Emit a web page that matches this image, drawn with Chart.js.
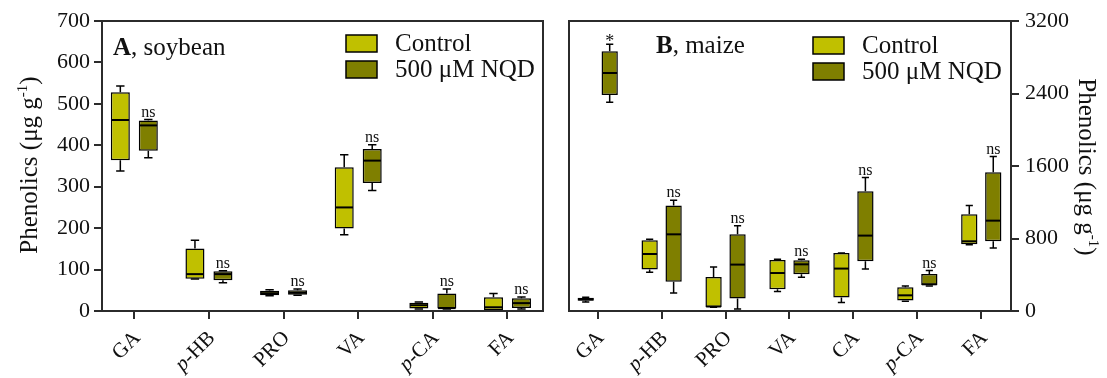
<!DOCTYPE html>
<html>
<head>
<meta charset="utf-8">
<script src="https://cdn.jsdelivr.net/npm/chart.js@4.4.1/dist/chart.umd.min.js"></script>
<style>
  html, body { margin: 0; padding: 0; background: #fff; }
  #wrap { position: relative; width: 1107px; height: 378px; }
  canvas { position: absolute; top: 0; }
  #soy { left: 0; }
  #maize { left: 555px; }
</style>
</head>
<body>
<div id="wrap">
  <canvas id="soy" width="555" height="378"></canvas>
  <canvas id="maize" width="552" height="378"></canvas>
</div>
<script>
// box stats per compound: [min, q1, median, q3, max], ug/g
const soyCats = ['GA', 'p-HB', 'PRO', 'VA', 'p-CA', 'FA'];
const soyControl = [[338, 364, 461, 528, 543], [77, 78, 89, 151, 171], [37, 38, 43, 49, 51],
                    [184, 199, 250, 347, 377], [5, 6, 14, 20, 22], [0, 2, 9, 33, 42]];
const soyNqd = [[370, 387, 448, 460, 462], [68, 74, 89, 96, 97], [38, 39, 44, 50, 53],
                [291, 309, 363, 391, 401], [5, 6, 7, 42, 53], [5, 7, 19, 31, 34]];
const soySig = ['ns', 'ns', 'ns', 'ns', 'ns', 'ns'];
const soyTicks = [0, 100, 200, 300, 400, 500, 600, 700];

const maizeCats = ['GA', 'p-HB', 'PRO', 'VA', 'CA', 'p-CA', 'FA'];
const maizeControl = [[100, 112, 128, 146, 152], [427, 457, 629, 780, 791], [41, 41, 50, 375, 486],
                      [214, 239, 419, 563, 570], [93, 148, 468, 640, 640], [107, 115, 173, 262, 276],
                      [732, 736, 769, 1067, 1163]];
const maizeNqd = [[2303, 2384, 2626, 2866, 2943], [199, 324, 846, 1163, 1221], [22, 137, 512, 846, 942],
                  [372, 405, 515, 559, 570], [464, 548, 832, 1321, 1472], [276, 284, 295, 408, 446],
                  [695, 769, 997, 1530, 1704]];
const maizeSig = ['*', 'ns', 'ns', 'ns', 'ns', 'ns', 'ns'];
const maizeTicks = [0, 800, 1600, 2400, 3200];

const seriesLabels = ['Control', '500 \u03bcM NQD'];
const seriesColors = ['#c0c000', '#7f7f00'];

const FONT = '"Liberation Serif", "Times New Roman", serif';
const INK = '#111';
const FRAME = '#2b2b2b';

function boxDatasets(ctrl, nqd) {
  return [ctrl, nqd].map((stats, k) => ({
    label: seriesLabels[k],
    stats: stats,
    data: stats.map((s, i) => ({ x: i, y: [s[1], s[3]] })),
    backgroundColor: seriesColors[k],
    borderColor: '#000',
    borderWidth: 1.5,
    borderSkipped: false,
    categoryPercentage: 0.75,
    barPercentage: 0.68
  }));
}

// whiskers, medians and significance marks
function boxPlot(sig) {
  return {
    id: 'boxPlot',
    afterDatasetsDraw(chart) {
      const ctx = chart.ctx, ys = chart.scales.y;
      const py = v => ys.getPixelForValue(v);
      ctx.save();
      ctx.strokeStyle = '#000';
      chart.data.datasets.forEach((ds, di) => {
        chart.getDatasetMeta(di).data.forEach((bar, i) => {
          const [mn, q1, md, q3, mx] = ds.stats[i];
          const x = bar.x, hw = bar.width / 2, cap = bar.width * 0.22;
          ctx.lineWidth = 1.5;
          ctx.beginPath();
          ctx.moveTo(x, py(q3)); ctx.lineTo(x, py(mx));
          ctx.moveTo(x - cap, py(mx)); ctx.lineTo(x + cap, py(mx));
          ctx.moveTo(x, py(q1)); ctx.lineTo(x, py(mn));
          ctx.moveTo(x - cap, py(mn)); ctx.lineTo(x + cap, py(mn));
          ctx.stroke();
          ctx.lineWidth = 2;
          ctx.beginPath();
          ctx.moveTo(x - hw + 0.75, py(md)); ctx.lineTo(x + hw - 0.75, py(md));
          ctx.stroke();
        });
      });
      const treated = chart.data.datasets[1];
      ctx.fillStyle = INK;
      ctx.textAlign = 'center';
      ctx.textBaseline = 'alphabetic';
      chart.getDatasetMeta(1).data.forEach((bar, i) => {
        const top = py(treated.stats[i][4]);
        if (sig[i] === '*') {
          ctx.font = '18px ' + FONT;
          ctx.fillText('*', bar.x, top + 3);
        } else {
          ctx.font = '16px ' + FONT;
          ctx.fillText(sig[i], bar.x, top - 3);
        }
      });
      ctx.restore();
    }
  };
}

// text pieces drawn left to right: [font, text, dy]
function drawRuns(ctx, runs, x, y, align) {
  let total = 0;
  runs.forEach(r => { ctx.font = r[0]; total += ctx.measureText(r[1]).width; });
  let cx = align === 'right' ? x - total : align === 'center' ? x - total / 2 : x;
  ctx.textAlign = 'left';
  runs.forEach(r => {
    ctx.font = r[0];
    ctx.fillText(r[1], cx, y + (r[2] || 0));
    cx += ctx.measureText(r[1]).width;
  });
}

function catRuns(c) {
  const f = '21px ' + FONT;
  return c.startsWith('p-') ? [['italic ' + f, 'p'], [f, c.slice(1)]] : [[f, c]];
}

// frame, category labels, axis title, panel label, legend
function decor(cfg) {
  return {
    id: 'decor',
    afterDraw(chart) {
      const ctx = chart.ctx, a = chart.chartArea, xs = chart.scales.x;
      ctx.save();
      ctx.strokeStyle = FRAME;
      ctx.lineWidth = 2;
      ctx.strokeRect(a.left, a.top, a.right - a.left, a.bottom - a.top);

      ctx.fillStyle = INK;
      cfg.cats.forEach((c, i) => {
        ctx.save();
        ctx.translate(xs.getPixelForValue(i) + 3, a.bottom + 24);
        ctx.rotate(-Math.PI / 4);
        ctx.textBaseline = 'middle';
        drawRuns(ctx, catRuns(c), 0, 0, 'right');
        ctx.restore();
      });

      ctx.save();
      ctx.translate(cfg.title[0], cfg.title[1]);
      ctx.rotate(cfg.title[2]);
      ctx.textBaseline = 'alphabetic';
      drawRuns(ctx, [['25px ' + FONT, 'Phenolics (\u03bcg g'], ['15px ' + FONT, '-1', -10],
                     ['25px ' + FONT, ')']], 0, 0, 'center');
      ctx.restore();

      ctx.textBaseline = 'alphabetic';
      drawRuns(ctx, [['bold 25px ' + FONT, cfg.panel[0]], ['25px ' + FONT, cfg.panel[1]]],
               cfg.panelPos[0], cfg.panelPos[1], 'left');

      const [lx, ly] = cfg.legend;
      chart.data.datasets.forEach((ds, k) => {
        const top = ly + k * 26;
        ctx.fillStyle = ds.backgroundColor;
        ctx.fillRect(lx, top, 31, 17);
        ctx.strokeStyle = '#000';
        ctx.lineWidth = 1.5;
        ctx.strokeRect(lx, top, 31, 17);
        ctx.fillStyle = INK;
        ctx.font = '25px ' + FONT;
        ctx.textAlign = 'left';
        ctx.fillText(ds.label, lx + 49, top + 16);
      });
      ctx.restore();
    }
  };
}

function makeChart(id, cats, ctrl, nqd, sig, yTicks, o) {
  return new Chart(document.getElementById(id), {
    type: 'bar',
    data: { datasets: boxDatasets(ctrl, nqd) },
    options: {
      responsive: false,
      animation: false,
      layout: { padding: o.padding },
      plugins: { legend: { display: false }, tooltip: { enabled: false } },
      scales: {
        x: {
          type: 'linear',
          offset: false,
          min: o.xMin,
          max: o.xMax,
          ticks: { display: false },
          grid: { offset: false, drawOnChartArea: false, tickLength: 8, color: FRAME, lineWidth: 2 },
          border: { display: false },
          afterBuildTicks: s => { s.ticks = cats.map((c, i) => ({ value: i })); },
          afterFit: s => { s.height = 67; }
        },
        y: {
          position: o.yPos,
          min: yTicks[0],
          max: yTicks[yTicks.length - 1],
          afterBuildTicks: s => { s.ticks = yTicks.map(v => ({ value: v })); },
          ticks: { color: INK, font: { family: FONT, size: 22 }, padding: o.tickPad,
                   callback: v => String(v) },
          grid: { drawOnChartArea: false, tickLength: 8, color: FRAME, lineWidth: 2 },
          border: { display: false },
          afterFit: s => { s.width = o.yWidth; }
        }
      }
    },
    plugins: [boxPlot(sig), decor(o)]
  });
}

makeChart('soy', soyCats, soyControl, soyNqd, soySig, soyTicks, {
  cats: soyCats,
  padding: { top: 21, right: 12, left: 0, bottom: 0 },
  xMin: -0.433, xMax: 5.476,
  yPos: 'left', yWidth: 102, tickPad: 4,
  title: [37, 165, -Math.PI / 2],
  panel: ['A', ', soybean'], panelPos: [113, 55],
  legend: [346, 35]
});

makeChart('maize', maizeCats, maizeControl, maizeNqd, maizeSig, maizeTicks, {
  cats: maizeCats,
  padding: { top: 21, right: 0, left: 14, bottom: 0 },
  xMin: -0.449, xMax: 6.465,
  yPos: 'right', yWidth: 96, tickPad: 6,
  title: [524, 167, Math.PI / 2],
  panel: ['B', ', maize'], panelPos: [101, 53],
  legend: [258, 37]
});
</script>
</body>
</html>
